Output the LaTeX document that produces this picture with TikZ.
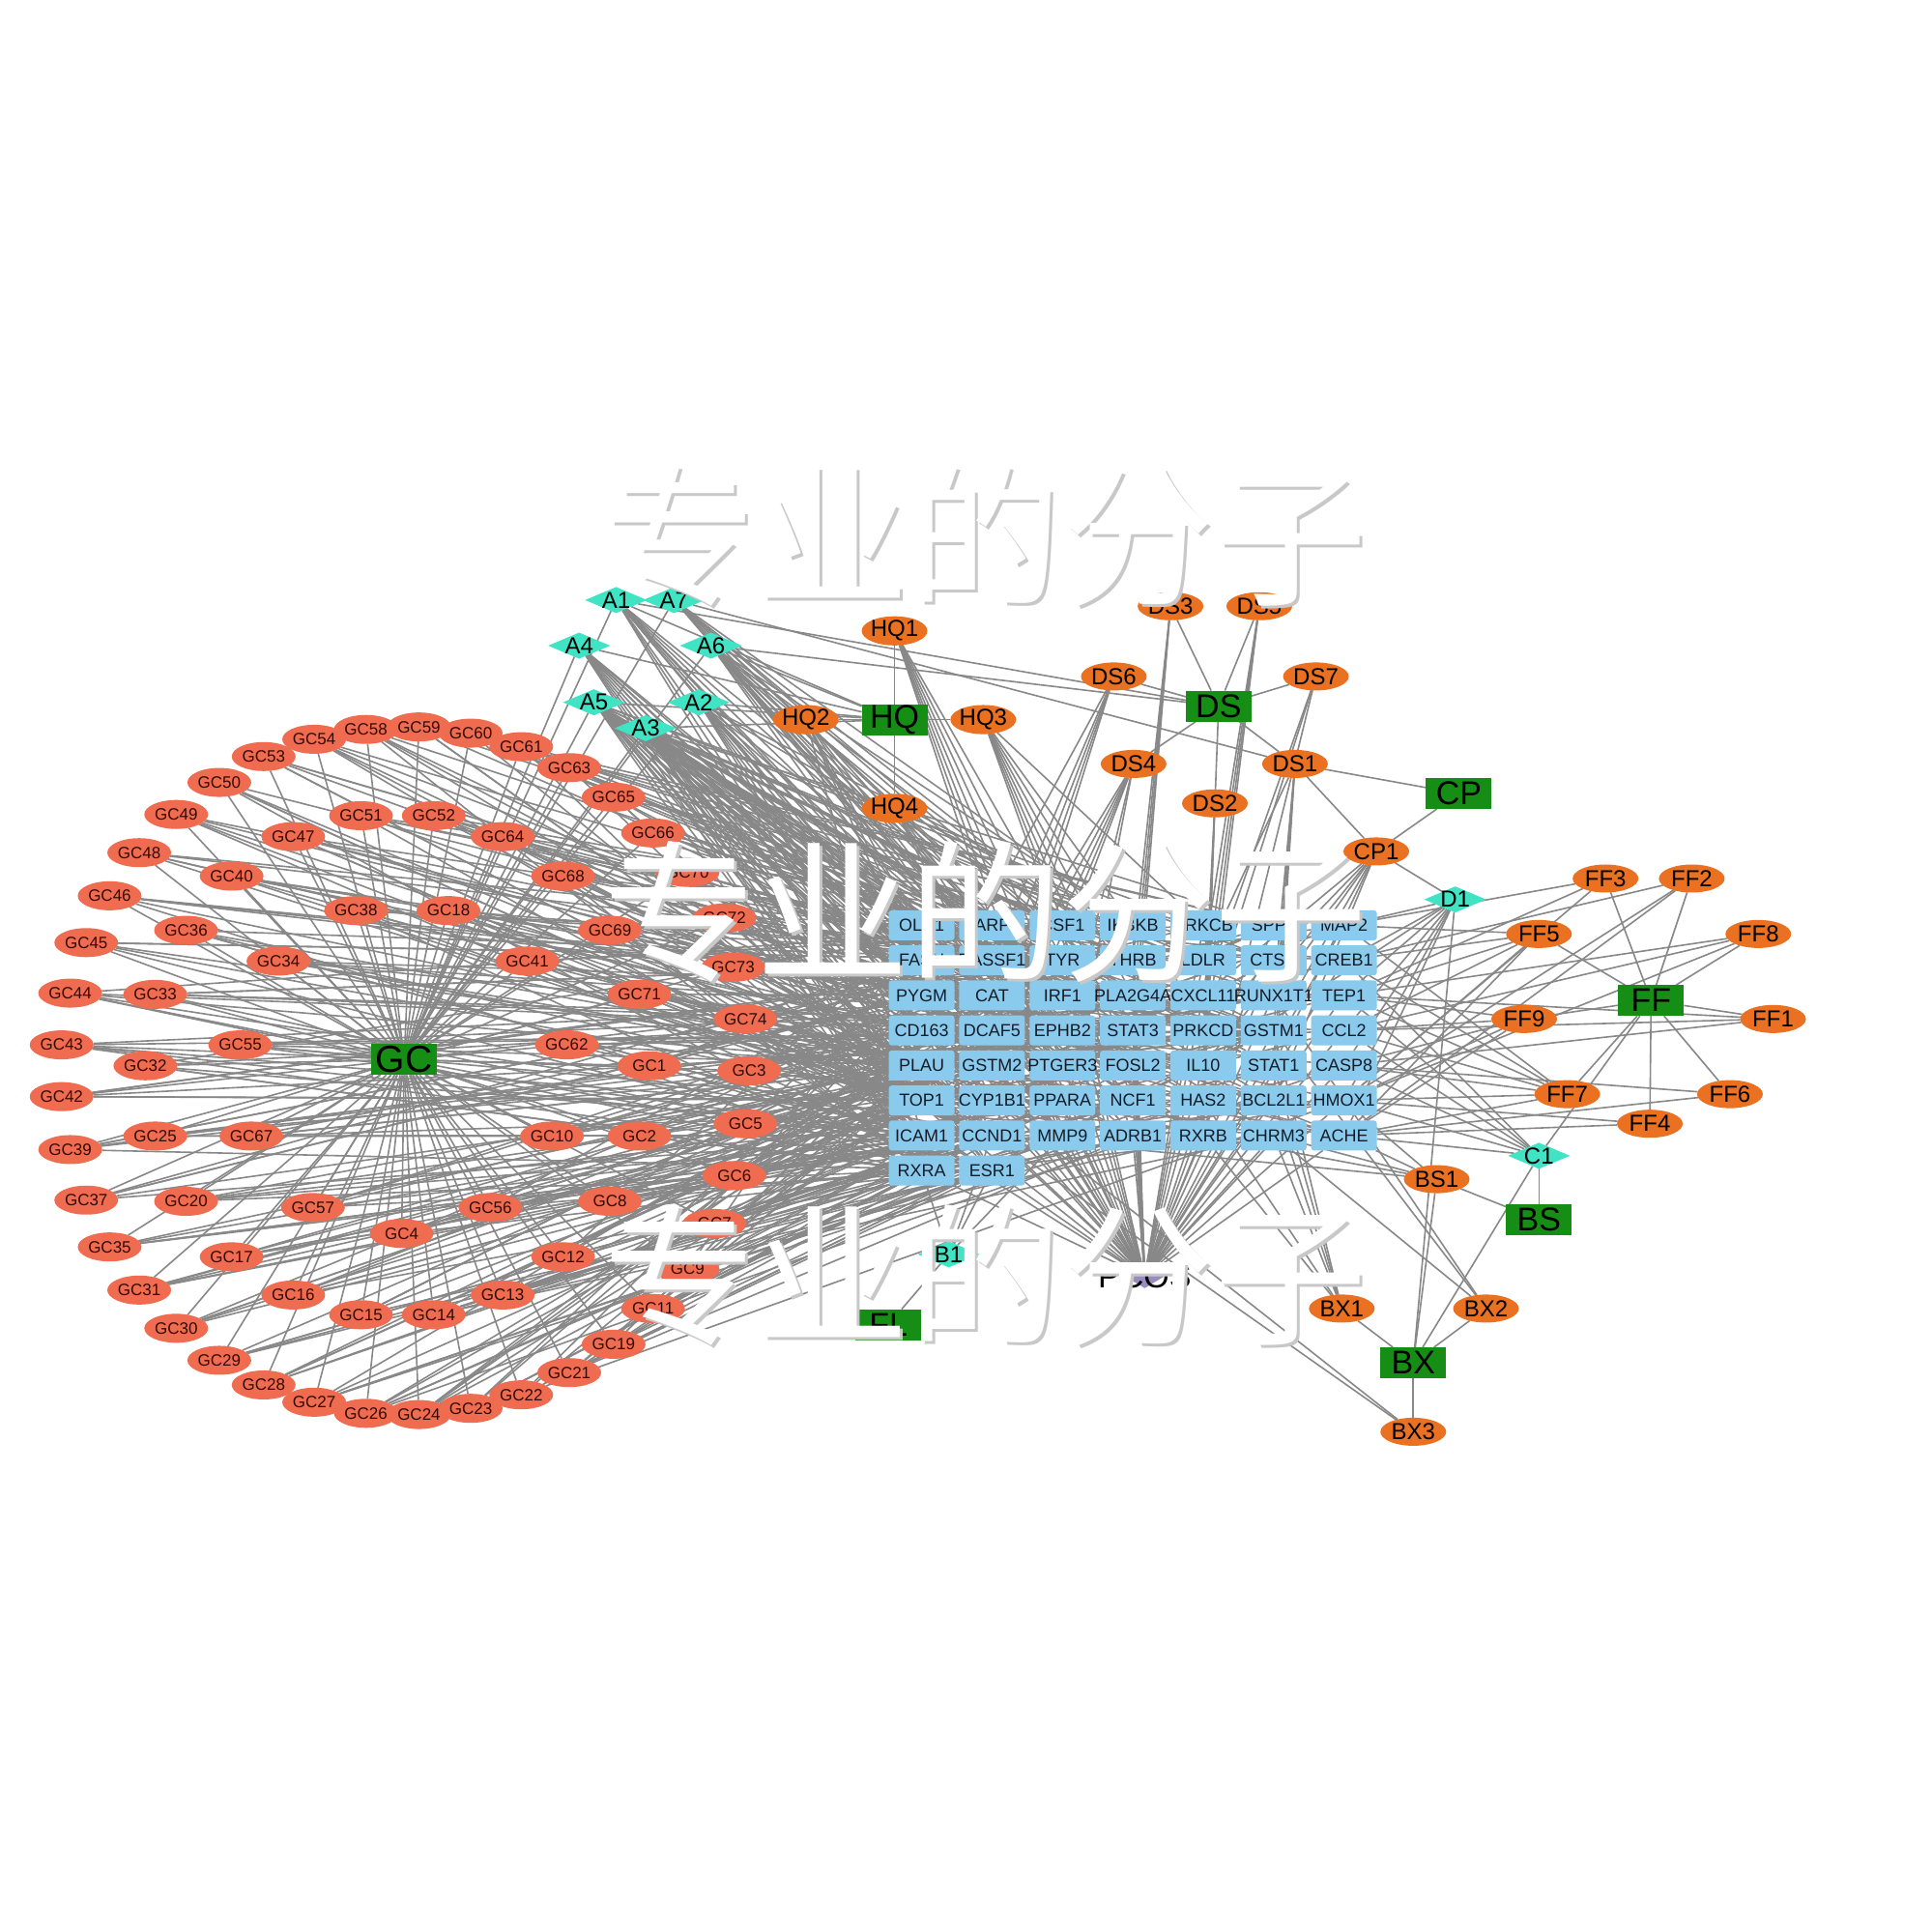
\documentclass[tikz,border=0pt]{standalone}
\usepackage{fontspec}
\setmainfont{Liberation Sans}
\newfontfamily\cjk{Noto Sans CJK SC}
\usetikzlibrary{shapes.geometric}
\pgfdeclarelayer{bgl}
\pgfdeclarelayer{edges}
\pgfdeclarelayer{wm}
\pgfsetlayers{bgl,edges,main,wm}
\definecolor{gcfill}{RGB}{239,108,80}
\definecolor{herb}{RGB}{233,113,33}
\definecolor{hubgreen}{RGB}{22,142,22}
\definecolor{cmpcyan}{RGB}{64,228,196}
\definecolor{geneblue}{RGB}{138,202,236}
\definecolor{edgegray}{RGB}{136,136,136}
\definecolor{pcosfill}{RGB}{150,140,190}
\definecolor{wmshadow}{RGB}{200,200,200}
\definecolor{genetext}{RGB}{20,28,40}
\newcommand\mkc[1]{\makebox[0pt]{#1}}
\tikzset{
 base/.style={inner sep=0pt, outer sep=0pt, text=black},
 gcn/.style={base, ellipse, fill=gcfill, minimum width=66pt, minimum height=30pt, font=\fontsize{17}{17}\selectfont, text={rgb,255:red,50;green,10;blue,5}},
 hn/.style={base, ellipse, fill=herb, minimum width=68pt, minimum height=29pt, font=\fontsize{24}{24}\selectfont},
 hub/.style={base, rectangle, fill=hubgreen, minimum width=68pt, minimum height=32pt, font=\fontsize{34}{34}\selectfont},
 cmp/.style={base, diamond, fill=cmpcyan, minimum width=64pt, minimum height=27pt, font=\fontsize{24}{24}\selectfont},
 gbox/.style={base, rectangle, rounded corners=3pt, fill=geneblue, minimum width=68pt, minimum height=31pt, font=\fontsize{18}{18}\selectfont, text=genetext},
 pcosn/.style={base, diamond, fill=pcosfill, minimum width=40pt, minimum height=22pt, font=\fontsize{34}{34}\selectfont},
 edge/.style={draw=edgegray, line width=1.6pt},
 wmark/.style={inner sep=0pt, font=\cjk\fontsize{158}{158}\selectfont},
}
\begin{document}
\begin{tikzpicture}[x=1.2749pt, y=-1.2749pt]
\useasboundingbox (0,0) rectangle (1568,1568);
\begin{pgfonlayer}{bgl}
\fill[white] (0,0) rectangle (1568,1568);
\end{pgfonlayer}

% ---------- gene grid ----------
\foreach \lab [count=\k from 1] in {OLR1,PARP1,CSF1,IKBKB,PRKCB,SPP1,MAP2,
 FASN,RASSF1,TYR,THRB,LDLR,CTSD,CREB1,
 PYGM,CAT,IRF1,PLA2G4A,CXCL11,RUNX1T1,TEP1,
 CD163,DCAF5,EPHB2,STAT3,PRKCD,GSTM1,CCL2,
 PLAU,GSTM2,PTGER3,FOSL2,IL10,STAT1,CASP8,
 TOP1,CYP1B1,PPARA,NCF1,HAS2,BCL2L1,HMOX1,
 ICAM1,CCND1,MMP9,ADRB1,RXRB,CHRM3,ACHE,
 RXRA,ESR1} {
  \pgfmathtruncatemacro\rowi{(\k-1)/7}
  \pgfmathtruncatemacro\coli{mod(\k-1,7)}
  \node[gbox] (g\k) at ({748+57.13*\coli},{751+28.43*\rowi}) {\mkc{\lab}};
}

% ---------- hubs ----------
\node[hub, font=\fontsize{39}{39}\selectfont] (hGC) at (328,860) {\mkc{GC}};
\node[hub] (hHQ) at (726,584) {\mkc{HQ}};
\node[hub] (hDS) at (989,573) {\mkc{DS}};
\node[hub] (hCP) at (1184,644) {\mkc{CP}};
\node[hub] (hFF) at (1340,812) {\mkc{FF}};
\node[hub] (hBS) at (1249,990) {\mkc{BS}};
\node[hub] (hBX) at (1147,1106) {\mkc{BX}};
\node[hub] (hFL) at (721,1075) {\mkc{FL}};
\node[pcosn] (pcos) at (929,1036) {\mkc{PCOS}};

% ---------- shared compounds ----------
\foreach \nm/\lab/\x/\y in {a1/A1/500/487, a7/A7/547/487, a4/A4/470/524, a6/A6/577/524,
 a5/A5/482/570, a2/A2/567/570, a3/A3/524/591, d1/D1/1181/730, c1/C1/1249/938, b1/B1/770/1018}
 \node[cmp] (\nm) at (\x,\y) {\mkc{\lab}};

% ---------- herb compounds ----------
\foreach \nm/\lab/\x/\y in {hq1/HQ1/726/512, hq2/HQ2/654/584, hq3/HQ3/798/584, hq4/HQ4/726/656,
 ds3/DS3/950/492, ds5/DS5/1022/492, ds6/DS6/904/549, ds7/DS7/1068/549, ds4/DS4/920/620,
 ds1/DS1/1051/620, ds2/DS2/986/652, cp1/CP1/1117/691,
 ff3/FF3/1303/713, ff2/FF2/1373/713, ff8/FF8/1427/758, ff5/FF5/1249/758, ff9/FF9/1237/827,
 ff1/FF1/1439/827, ff7/FF7/1272/888, ff6/FF6/1404/888, ff4/FF4/1339/912,
 bs1/BS1/1166/957, bx1/BX1/1089/1062, bx2/BX2/1206/1062, bx3/BX3/1147/1162}
 \node[hn] (\nm) at (\x,\y) {\mkc{\lab}};

% ---------- GC compounds ----------
\foreach \n/\x/\y in {54/255/600, 58/297/592, 59/340/590, 60/382/595, 61/423/606, 53/214/614,
 63/462/623, 50/178/635, 65/498/647, 49/143/661, 66/530/676, 48/113/692, 70/558/708, 46/89/727,
 72/588/745, 45/70/765, 73/595/785, 44/57/806, 74/605/827, 43/50/848, 3/608/869, 42/50/890,
 5/605/912, 39/57/933, 6/596/954, 37/70/974, 7/580/993, 35/89/1012, 9/558/1030, 31/113/1047,
 11/530/1062, 30/143/1078, 19/498/1091, 29/178/1104, 21/462/1114, 28/214/1124, 22/423/1132,
 27/255/1138, 23/382/1143, 26/297/1147, 24/340/1148,
 51/293/662, 52/352/662, 47/238/679, 64/408/679, 40/188/711, 68/457/711, 38/289/739,
 18/364/739, 36/151/755, 69/495/755, 34/226/780, 41/428/780, 33/126/807, 71/519/807,
 55/195/848, 62/460/848, 32/118/865, 1/527/865, 25/126/922, 67/204/922, 10/448/922,
 2/519/922, 20/151/975, 57/254/980, 56/398/980, 8/495/975, 4/326/1001, 17/188/1020,
 12/457/1020, 16/238/1051, 13/408/1051, 15/293/1067, 14/352/1067}
 \node[gcn] (gc\n) at (\x,\y) {\mkc{GC\n}};

% ---------- edges ----------
\begin{pgfonlayer}{edges}
\foreach \n in {1,...,74} {
  \draw[edge] (hGC) -- (gc\n);
  \pgfmathtruncatemacro\ta{mod(\n*7,51)+1}
  \pgfmathtruncatemacro\tb{mod(\n*11+3,51)+1}
  \pgfmathtruncatemacro\tc{mod(\n*17+9,51)+1}
  \pgfmathtruncatemacro\te{mod(\n*23+30,51)+1}
  \pgfmathtruncatemacro\td{{36,43,50,51,29,44}[mod(\n,6)]}
  \draw[edge] (gc\n) -- (g\ta);
  \draw[edge] (gc\n) -- (g\tb);
  \draw[edge] (gc\n) -- (g\tc);
  \draw[edge] (gc\n) -- (g\td);
  \draw[edge] (gc\n) -- (g\te);
}
\foreach \t in {1,...,51} \draw[edge] (pcos) -- (g\t);
\foreach \s/\t in {hGC/a1,hGC/a2,hGC/a3,hGC/a4,hGC/a5,hGC/a6,hGC/a7,
 hHQ/hq1,hHQ/hq2,hHQ/hq3,hHQ/hq4,hHQ/a1,hHQ/a2,hHQ/a3,hHQ/a4,hHQ/a5,hHQ/a6,
 hDS/ds1,hDS/ds2,hDS/ds3,hDS/ds4,hDS/ds5,hDS/ds6,hDS/ds7,hDS/a6,a7/ds1,a1/hDS,
 hCP/cp1,hCP/ds1,ds1/cp1,cp1/d1,
 hFF/ff1,hFF/ff2,hFF/ff3,hFF/ff4,hFF/ff5,hFF/ff6,hFF/ff7,hFF/ff8,hFF/ff9,hFF/c1,
 hBS/bs1,hBS/c1,hBX/bx1,hBX/bx2,hBX/bx3,hBX/bs1,hBX/c1,hBX/d1,hFL/b1}
 \draw[edge] (\s) -- (\t);
\foreach \s/\lst in {
 a1/{1,8,10,17,24,31,38,45,29,36,22},
 a7/{3,10,18,25,32,39,46,11,4},
 a4/{1,8,15,22,29,36,43,50,16,23,30},
 a6/{4,11,17,18,24,25,31,32,38,39,45,46},
 a5/{1,3,5,8,9,13,15,17,19,22,23,25,29,30,31,33,36,37,39,41,43,44,45,47,50,51},
 a2/{2,9,16,23,30,37,44,51,12,19},
 a3/{1,2,4,6,8,9,10,11,12,15,16,18,20,22,23,24,26,27,29,30,32,34,36,37,38,40,43,44,45,46,48,50,51},
 hq1/{3,10,17,24,31,38,45},
 hq2/{2,9,16,30,37,44,43},
 hq3/{4,11,18,25,32,39,46,5},
 hq4/{10,17,24,31,38,45,12},
 ds1/{20,27,34,12,41},
 ds2/{26,33,40,47},
 ds3/{11,18,25,32},
 ds4/{16,23,30,37,44,45,31},
 ds5/{12,19,26,33},
 ds6/{9,16,22,23,30},
 ds7/{19,26,47},
 cp1/{19,20,26,27,33,34,41},
 d1/{7,14,21,28,35,42,49,33},
 ff1/{35,21,28},
 ff2/{14,42,49},
 ff3/{7,21,42},
 ff4/{49,42},
 ff5/{7,14,21,28,42,49},
 ff6/{49,35},
 ff7/{7,14,21,28,35,42,49},
 ff8/{21,28,42},
 ff9/{21,28,35,42,49},
 c1/{14,21,28,35,42,49},
 bs1/{49,42,48,47,44},
 bx1/{41,48,47,34,40,27},
 bx2/{27,20,48},
 bx3/{44,37},
 b1/{44,45,50,51}} {
  \foreach \t in \lst \draw[edge] (\s) -- (g\t);
}
\end{pgfonlayer}

% ---------- watermark ----------
\begin{pgfonlayer}{wm}
\foreach \wy/\nm in {435/wma, 740/wmb, 1035/wmc} {
  \node[wmark, text=wmshadow] (\nm s) at (802,\wy+2) {专业的分子};
  \node[wmark, text=white] (\nm) at (800,\wy) {专业的分子};
}
\end{pgfonlayer}
\end{tikzpicture}
\end{document}
